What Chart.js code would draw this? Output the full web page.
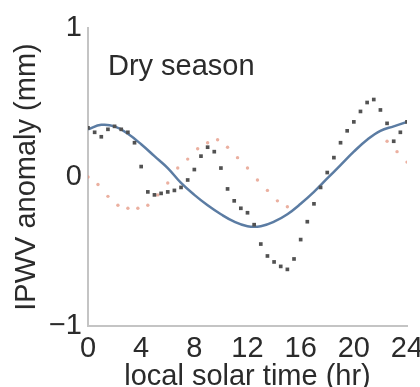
<!DOCTYPE html>
<html>
<head>
<meta charset="utf-8">
<script src="https://cdn.jsdelivr.net/npm/chart.js@4"></script>
<style>
  html, body { margin: 0; padding: 0; background: #fff; }
  #wrap { width: 420px; height: 387px; }
</style>
</head>
<body>
<div id="wrap"><canvas id="chart" width="420" height="387"></canvas></div>
<script>
// Dry season IPWV diurnal anomaly

// observed (dark squares), half-hourly
const obsHours = [0, 0.5, 1, 1.5, 2, 2.5, 3, 3.5, 4, 4.5, 5, 5.5, 6, 6.5, 7, 7.5, 8, 8.5, 9, 9.5, 10, 10.5, 11, 11.5,
  12, 12.5, 13, 13.5, 14, 14.5, 15, 15.5, 16, 16.5, 17, 17.5, 18, 18.5, 19, 19.5, 20, 20.5, 21, 21.5, 22, 22.5, 23, 23.5, 24];
const obsValues = [0.33, 0.30, 0.27, 0.32, 0.34, 0.32, 0.30, 0.23, 0.07, -0.10, -0.12, -0.11, -0.10, -0.09, -0.07, -0.02,
  0.05, 0.14, 0.20, 0.17, 0.06, -0.08, -0.16, -0.21, -0.24, -0.32, -0.45, -0.53, -0.57, -0.60, -0.62, -0.55,
  -0.42, -0.30, -0.18, -0.07, 0.03, 0.13, 0.23, 0.31, 0.37, 0.44, 0.50, 0.52, 0.45, 0.36, 0.24, 0.30, 0.37];

// smooth fit (blue line), hourly
const fitHours = [0, 1, 2, 3, 4, 5, 6, 7, 8, 9, 10, 11, 12, 13, 14, 15, 16, 17, 18, 19, 20, 21, 22, 23, 24];
const fitValues = [0.32, 0.35, 0.34, 0.29, 0.22, 0.14, 0.06, -0.04, -0.12, -0.19, -0.25, -0.30, -0.33, -0.33, -0.30,
  -0.25, -0.18, -0.10, -0.01, 0.08, 0.17, 0.25, 0.31, 0.34, 0.37];

// faint orange dotted series
const altHours = [0, 0.75, 1.5, 2.25, 3, 3.75, 4.5, 5.25, 6, 6.75, 7.5, 8.25, 9, 9.75, 10.5, 11.25, 12, 12.75, 13.5, 14.25, 15,
  22.5, 23.25, 24];
const altValues = [0.0, -0.05, -0.13, -0.19, -0.21, -0.21, -0.19, -0.12, -0.04, 0.06, 0.12, 0.19, 0.23, 0.25, 0.20, 0.13,
  0.06, -0.02, -0.09, -0.16, -0.20, 0.24, 0.17, 0.10];

const xTicks = [0, 4, 8, 12, 16, 20, 24];
const yTicks = [-1, 0, 1];

const toPts = (xs, ys) => xs.map((x, i) => ({ x: x, y: ys[i] }));

const FONT = "'Liberation Sans', Arial, sans-serif";
const TEXT = '#2b2b2b';

// panel label
const panelLabel = {
  id: 'panelLabel',
  afterDraw(chart) {
    const { ctx, scales } = chart;
    ctx.save();
    ctx.font = '29px ' + FONT;
    ctx.fillStyle = TEXT;
    ctx.textAlign = 'left';
    ctx.textBaseline = 'alphabetic';
    ctx.fillText('Dry season', scales.x.getPixelForValue(1.5), scales.y.getPixelForValue(0.685));
    ctx.restore();
  }
};

new Chart(document.getElementById('chart'), {
  type: 'scatter',
  data: {
    datasets: [{
      label: 'observed',
      data: toPts(obsHours, obsValues),
      pointStyle: 'rect',
      pointRadius: 2.6,
      backgroundColor: '#525252',
      borderWidth: 0,
    }, {
      label: 'fit',
      data: toPts(fitHours, fitValues),
      showLine: true,
      tension: 0.4,
      borderColor: '#5b7ca3',
      borderWidth: 2.5,
      pointRadius: 0,
    }, {
      label: 'alt',
      data: toPts(altHours, altValues),
      pointRadius: 1.7,
      backgroundColor: 'rgba(228,150,128,0.75)',
      borderWidth: 0,
    }]
  },
  options: {
    responsive: false,
    animation: false,
    layout: { padding: { top: 28, right: 13, left: 0, bottom: 0 } },
    plugins: { legend: { display: false }, tooltip: { enabled: false } },
    scales: {
      x: {
        type: 'linear', min: 0, max: 24,
        afterBuildTicks: s => { s.ticks = xTicks.map(v => ({ value: v })); },
        afterFit: s => { s.height = 61; s.paddingRight = 0; },
        grid: { display: false, drawTicks: false },
        border: { color: '#c4c4c4', width: 2 },
        ticks: { color: TEXT, font: { family: FONT, size: 29, lineHeight: 1 }, padding: 8, maxRotation: 0 },
        title: { display: true, text: 'local solar time (hr)', color: TEXT,
          font: { family: FONT, size: 29, lineHeight: 1 }, padding: { top: 0, bottom: -4 } }
      },
      y: {
        min: -1, max: 1,
        afterBuildTicks: s => { s.ticks = yTicks.map(v => ({ value: v })); },
        afterFit: s => { s.width = 88; s.paddingTop = 0; s.paddingBottom = 0; },
        grid: { display: false, drawTicks: false },
        border: { color: '#c4c4c4', width: 2 },
        ticks: { color: TEXT, font: { family: FONT, size: 29, lineHeight: 1 }, padding: 6,
          callback: v => (v < 0 ? '\u2212' + Math.abs(v) : '' + v) },
        title: { display: true, text: 'IPWV anomaly (mm)', color: TEXT,
          font: { family: FONT, size: 29, lineHeight: 1 }, padding: { top: 12, bottom: 0 } }
      }
    }
  },
  plugins: [panelLabel]
});
</script>
</body>
</html>
